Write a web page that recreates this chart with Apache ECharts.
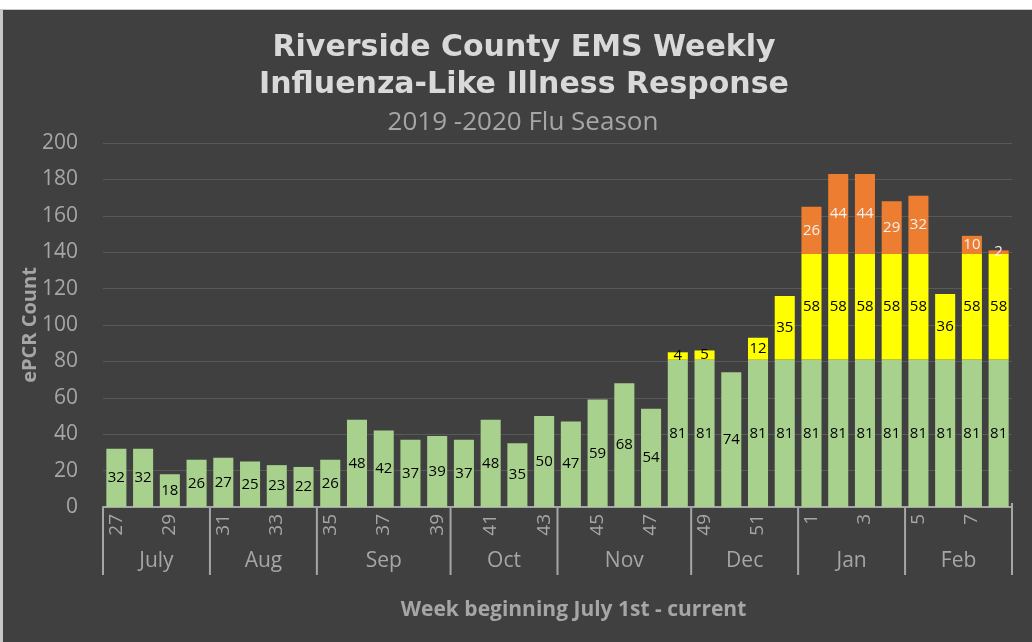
<!DOCTYPE html>
<html>
<head>
<meta charset="utf-8">
<script src="https://cdn.jsdelivr.net/npm/echarts@6/dist/echarts.min.js"></script>
<style>
  html, body { margin: 0; padding: 0; background: #ffffff; }
  #wrap { position: absolute; left: 0; top: 9px; width: 1032px; height: 633px; background: #c8c8c8; }
  #main { position: absolute; left: 3px; top: 1px; width: 1029px; height: 632px; }
</style>
</head>
<body>
<div id="wrap"><div id="main"></div></div>
<script>
// ---- data ----
const weeks = ['27','28','29','30','31','32','33','34','35','36','37','38','39','40','41','42','43',
               '44','45','46','47','48','49','50','51','52','1','2','3','4','5','6','7','8'];
const months = ['July','Aug','Sep','Oct','Nov','Dec','Jan','Feb'];
const monthWeekCounts = [4, 4, 5, 4, 5, 4, 4, 4];
const greenValues = [32,32,18,26, 27,25,23,22, 26,48,42,37,39, 37,48,35,50,
                     47,59,68,54,81, 81,74,81,81, 81,81,81,81, 81,81,81,81];
const yellowValues = [null,null,null,null, null,null,null,null, null,null,null,null,null, null,null,null,null,
                      null,null,null,null,4, 5,null,12,35, 58,58,58,58, 58,36,58,58];
const orangeValues = [null,null,null,null, null,null,null,null, null,null,null,null,null, null,null,null,null,
                      null,null,null,null,null, null,null,null,null, 26,44,44,29, 32,null,10,2];
const yTicks = { min: 0, max: 200, interval: 20 };

// month ranges (start/end category index) derived from counts
const monthRanges = [];
let idx = 0;
monthWeekCounts.forEach(function (c) { monthRanges.push([idx, idx + c - 1]); idx += c; });

const gray = '#a6a6a6';
const chart = echarts.init(document.getElementById('main'), null, { renderer: 'canvas' });

const labelBase = { show: true, position: 'inside', fontSize: 15, fontFamily: 'Open Sans' };

chart.setOption({
  backgroundColor: '#404040',
  animation: false,
  title: [
    {
      text: 'Riverside County EMS Weekly\nInfluenza-Like Illness Response',
      left: 521, top: 20, textAlign: 'center', padding: 0,
      textStyle: { color: '#d9d9d9', fontSize: 30, fontWeight: 'bold', fontFamily: 'DejaVu Sans', lineHeight: 37 }
    },
    {
      text: '2019 -2020 Flu Season',
      left: 520, top: 100, textAlign: 'center', padding: 0,
      textStyle: { color: gray, fontSize: 26, fontWeight: 'normal', fontFamily: 'Open Sans' }
    }
  ],
  grid: { left: 100, top: 133, width: 909, height: 364, containLabel: false },
  xAxis: {
    type: 'category',
    data: weeks,
    axisLine: { show: true, lineStyle: { color: gray, width: 2 } },
    axisTick: { show: true, inside: true, alignWithLabel: true, interval: 0, length: 4, lineStyle: { color: '#8c8c8c', width: 1 } },
    axisLabel: {
      rotate: 90, margin: 7, color: gray, fontSize: 19, fontFamily: 'Open Sans',
      interval: function (i) { return i % 2 === 0; }
    },
    name: 'Week beginning July 1st - current',
    nameLocation: 'middle',
    nameMoveOverlap: false,
    nameGap: 93,
    nameTextStyle: { color: gray, fontSize: 21, fontWeight: 'bold', fontFamily: 'Open Sans', padding: [0, 0, 0, 32] }
  },
  yAxis: {
    type: 'value',
    min: yTicks.min, max: yTicks.max, interval: yTicks.interval,
    axisLine: { show: false },
    axisTick: { show: false },
    axisLabel: { color: gray, fontSize: 21, margin: 25, fontFamily: 'Open Sans' },
    splitLine: { lineStyle: { color: '#595959', width: 1 } },
    name: 'ePCR Count',
    nameLocation: 'middle',
    nameMoveOverlap: false,
    nameGap: 63,
    nameTextStyle: { color: gray, fontSize: 20, fontWeight: 'bold', fontFamily: 'Open Sans' }
  },
  series: [
    {
      name: 'base', type: 'bar', stack: 'ili', data: greenValues, barWidth: '75%',
      itemStyle: { color: '#a9d18e' },
      label: Object.assign({}, labelBase, { color: '#000000' })
    },
    {
      name: 'mid', type: 'bar', stack: 'ili', data: yellowValues, barWidth: '75%',
      itemStyle: { color: '#ffff00' },
      label: Object.assign({}, labelBase, { color: '#000000' })
    },
    {
      name: 'top', type: 'bar', stack: 'ili', data: orangeValues, barWidth: '75%',
      itemStyle: { color: '#ed7d31' },
      label: Object.assign({}, labelBase, { color: '#f2f2f2' })
    },
    {
      name: 'months', type: 'custom', clip: false, silent: true, z: 5,
      data: monthRanges,
      renderItem: function (params, api) {
        const s = api.value(0), e = api.value(1);
        const band = api.size([1, 1], [s, 0])[0];
        const p0 = api.coord([s, 0]);
        const p1 = api.coord([e, 0]);
        const xl = p0[0] - band / 2, xr = p1[0] + band / 2;
        const y = p0[1];
        const children = [
          { type: 'line', shape: { x1: xl, y1: y, x2: xl, y2: y + 68 }, style: { stroke: gray, lineWidth: 2 } },
          { type: 'text', x: (xl + xr) / 2, y: y + 54,
            style: { text: months[params.dataIndex], fill: gray, fontSize: 21, fontFamily: 'Open Sans', align: 'center', verticalAlign: 'middle' } }
        ];
        if (params.dataIndex === monthRanges.length - 1) {
          children.push({ type: 'line', shape: { x1: xr, y1: y - 4, x2: xr, y2: y + 68 }, style: { stroke: gray, lineWidth: 2 } });
        }
        return { type: 'group', children: children };
      }
    }
  ]
});
</script>
</body>
</html>
